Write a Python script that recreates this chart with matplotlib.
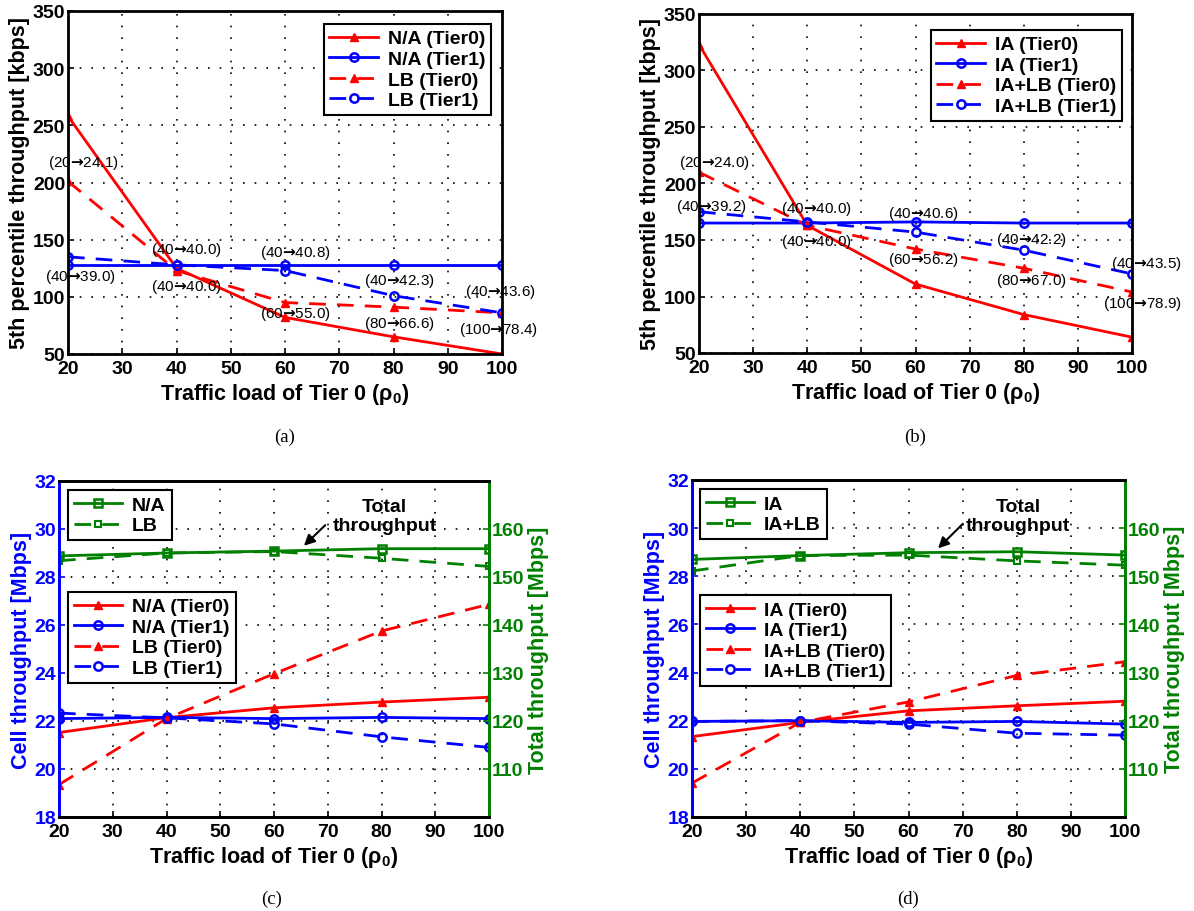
import matplotlib
matplotlib.use('Agg')
import matplotlib.pyplot as plt

# ---- data ----
load = [20, 40, 60, 80, 100]

# (a) 5th percentile throughput [kbps]
a_na_t0 = [258, 125, 82, 65, 50]
a_na_t1 = [128, 128, 128, 128, 128]
a_lb_t0 = [201, 123, 95, 91, 86]
a_lb_t1 = [135, 128, 123, 101, 86]
a_notes = ['(20→24.1)', '(40→39.0)', '(40→40.0)', '(40→40.0)', '(40→40.8)',
           '(60→55.0)', '(40→42.3)', '(80→66.6)', '(40→43.6)', '(100→78.4)']
a_note_x = [22.9, 22.3, 41.9, 41.9, 61.9, 61.9, 81.0, 81.0, 99.6, 99.3]
a_note_y = [217.6, 118, 141.9, 109.9, 139, 86, 114.5, 76.7, 105, 71.5]

# (b) 5th percentile throughput [kbps]
b_ia_t0 = [323, 163, 111, 84, 64]
b_ia_t1 = [165, 165, 166, 165, 165]
b_lb_t0 = [210, 163, 142, 125, 104]
b_lb_t1 = [175, 166, 157, 141, 120]
b_notes = ['(20→24.0)', '(40→39.2)', '(40→40.0)', '(40→40.0)', '(40→40.6)',
           '(60→56.2)', '(40→42.2)', '(80→67.0)', '(40→43.5)', '(100→78.9)']
b_note_x = [22.8, 22.3, 41.6, 41.6, 61.5, 61.5, 81.4, 81.4, 102.7, 101.9]
b_note_y = [219, 180, 178, 149.4, 174, 133, 151, 114.4, 129.7, 94]

# (c) cell / total throughput [Mbps]
c_na_total = [154.4, 155.0, 155.4, 155.9, 155.9]
c_lb_total = [153.4, 155.0, 155.3, 153.9, 152.2]
c_na_t0 = [21.52, 22.14, 22.55, 22.79, 22.99]
c_na_t1 = [22.10, 22.15, 22.10, 22.15, 22.10]
c_lb_t0 = [19.35, 22.10, 23.97, 25.75, 26.86]
c_lb_t1 = [22.33, 22.13, 21.88, 21.34, 20.90]

# (d) cell / total throughput [Mbps]
d_ia_total = [153.5, 154.3, 154.9, 155.1, 154.4]
d_lb_total = [151.1, 154.3, 154.4, 153.2, 152.3]
d_ia_t0 = [21.34, 21.93, 22.41, 22.62, 22.81]
d_ia_t1 = [21.97, 22.00, 21.93, 21.97, 21.86]
d_lb_t0 = [19.41, 21.93, 22.78, 23.88, 24.45]
d_lb_t1 = [21.97, 22.00, 21.86, 21.48, 21.40]

plt.rcParams['font.family'] = ['Liberation Sans', 'DejaVu Sans']
plt.rcParams['font.weight'] = 'bold'
plt.rcParams['axes.labelweight'] = 'bold'
plt.rcParams['mathtext.default'] = 'regular'

GREEN = '#008000'
XLABEL = 'Traffic load of Tier 0 (ρ$_0$)'
TICK_FS = 14
LABEL_FS = 15.5
LEG_FS = 14


def base_axes(ax, ylim, yticks):
    ax.set_xlim(20, 100)
    ax.set_xticks(range(20, 101, 10))
    ax.set_ylim(*ylim)
    ax.set_yticks(yticks)
    ax.grid(True, color='k', linestyle=(0, (1, 6)), linewidth=1.2)
    ax.tick_params(direction='in', labelsize=TICK_FS, length=4, width=1.2)
    ax.tick_params(axis='y', pad=2)
    ax.tick_params(axis='x', pad=4)
    for s in ax.spines.values():
        s.set_linewidth(2)
    ax.set_xlabel(XLABEL, fontsize=LABEL_FS, labelpad=3)


def add_legend(ax, loc, anchor):
    leg = ax.legend(loc=loc, bbox_to_anchor=anchor, fontsize=LEG_FS, fancybox=False,
                    edgecolor='k', framealpha=1, handlelength=2.5, labelspacing=0.15,
                    borderpad=0.3, handletextpad=0.5, borderaxespad=0)
    leg.get_frame().set_linewidth(1.5)
    return leg


def four_lines(ax, t0, t1, lt0, lt1, names):
    ax.plot(load, t0, 'r-^', lw=2, ms=6, label=names[0])
    ax.plot(load, t1, 'b-o', lw=2, ms=6, mfc='none', mew=1.8, label=names[1])
    ax.plot(load, lt0, 'r--^', lw=2, ms=6, dashes=(6, 4), label=names[2])
    ax.plot(load, lt1, 'b--o', lw=2, ms=6, mfc='none', mew=1.8, dashes=(6, 4), label=names[3])


def notes(ax, texts, xs, ys):
    # arrow taken from DejaVu Sans (sans-serif math font), rest in the text font
    for s, xx, yy in zip(texts, xs, ys):
        ax.text(xx, yy, s.replace('→', r'$\mathsf{→}$'), ha='center', va='center',
                fontsize=11, fontweight='normal', clip_on=False)


fig = plt.figure(figsize=(11.94, 9.12), dpi=100)

# ---------- (a) ----------
ax_a = fig.add_axes([68 / 1194, 1 - 355 / 912, 434 / 1194, 343 / 912])
four_lines(ax_a, a_na_t0, a_na_t1, a_lb_t0, a_lb_t1,
           ['N/A (Tier0)', 'N/A (Tier1)', 'LB (Tier0)', 'LB (Tier1)'])
base_axes(ax_a, (50, 350), range(50, 351, 50))
ax_a.set_ylabel('5th percentile throughput [kbps]', fontsize=LABEL_FS, labelpad=2)
add_legend(ax_a, 'upper right', (0.975, 0.962))
notes(ax_a, a_notes, a_note_x, a_note_y)

# ---------- (b) ----------
ax_b = fig.add_axes([699 / 1194, 1 - 354 / 912, 433 / 1194, 339 / 912])
four_lines(ax_b, b_ia_t0, b_ia_t1, b_lb_t0, b_lb_t1,
           ['IA (Tier0)', 'IA (Tier1)', 'IA+LB (Tier0)', 'IA+LB (Tier1)'])
base_axes(ax_b, (50, 350), range(50, 351, 50))
ax_b.set_ylabel('5th percentile throughput [kbps]', fontsize=LABEL_FS, labelpad=2)
add_legend(ax_b, 'upper right', (0.977, 0.953))
notes(ax_b, b_notes, b_note_x, b_note_y)


# ---------- (c) and (d) ----------
def cell_panel(rect, t0, t1, lt0, lt1, tot, ltot, names, tot_names,
               text_xy, head, tail, leg_x, low_top):
    ax = fig.add_axes(rect)
    four_lines(ax, t0, t1, lt0, lt1, names)
    base_axes(ax, (18, 32), range(18, 33, 2))
    ax.set_ylabel('Cell throughput [Mbps]', color='b', fontsize=LABEL_FS, labelpad=2)
    ax.tick_params(axis='y', colors='b')
    ax.spines['left'].set_color('b')
    ax.spines['right'].set_color(GREEN)

    ax2 = ax.twinx()
    ax2.plot(load, tot, '-s', color=GREEN, lw=2, ms=6, mfc='none', mew=1.8,
             label=tot_names[0])
    ax2.plot(load, ltot, '--s', color=GREEN, lw=2, ms=5, mfc='none', mew=1.5,
             dashes=(6, 4), label=tot_names[1])
    ax2.set_ylim(100, 170)
    ax2.set_yticks(range(110, 161, 10))
    ax2.tick_params(direction='in', labelsize=TICK_FS, length=4, width=1.2,
                    colors=GREEN, pad=2)
    for s in ax2.spines.values():
        s.set_linewidth(2)
    ax2.spines['left'].set_color('b')
    ax2.spines['right'].set_color(GREEN)
    ax2.set_ylabel('Total throughput [Mbps]', color=GREEN, fontsize=LABEL_FS, labelpad=3)

    add_legend(ax2, 'upper left', (leg_x, 0.972))
    add_legend(ax, 'upper left', (leg_x, low_top))

    ax2.text(text_xy[0], text_xy[1], 'Total\nthroughput', ha='center', va='center',
             fontsize=14, linespacing=1.1)
    ax2.annotate('', xy=head, xytext=tail,
                 arrowprops=dict(arrowstyle='-|>', color='k', lw=1.5, mutation_scale=16))
    return ax, ax2


cell_panel([59 / 1194, 1 - 818 / 912, 430 / 1194, 336 / 912],
           c_na_t0, c_na_t1, c_lb_t0, c_lb_t1, c_na_total, c_lb_total,
           ['N/A (Tier0)', 'N/A (Tier1)', 'LB (Tier0)', 'LB (Tier1)'], ['N/A', 'LB'],
           (80.6, 162.7), (65.2, 156.1), (69.9, 161.2), 0.021, 0.67)

cell_panel([692 / 1194, 1 - 818 / 912, 433 / 1194, 337 / 912],
           d_ia_t0, d_ia_t1, d_lb_t0, d_lb_t1, d_ia_total, d_lb_total,
           ['IA (Tier0)', 'IA (Tier1)', 'IA+LB (Tier0)', 'IA+LB (Tier1)'], ['IA', 'IA+LB'],
           (80.3, 162.5), (65.1, 155.4), (70.4, 161.3), 0.018, 0.658)

# captions
for lab, px, py in [('(a)', 285, 437), ('(b)', 915, 437), ('(c)', 272, 899), ('(d)', 908, 899)]:
    fig.text(px / 1194, 1 - py / 912, lab, ha='center', va='center',
             family='Liberation Serif', fontweight='normal', fontsize=13.5)

fig.savefig('out.png', dpi=100)
